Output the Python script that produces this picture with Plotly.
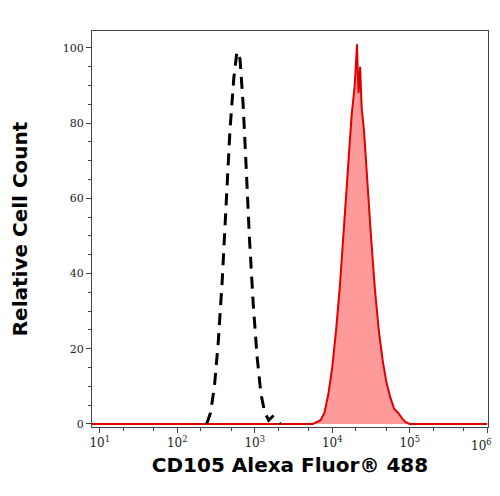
import plotly.graph_objects as go

iso_log_x = [2.38,2.43,2.48,2.53,2.58,2.63,2.68,2.73,2.77,2.81,2.85,2.89,2.93,2.98,3.03,3.08,3.13,3.18,3.23,3.28,3.33]
iso_y =     [0,   3,   10,  22,  38,  58,  78,  92,  99,  97,  85,  68,  50,  32,  18,  8,   3,   1,   2,   1,   0]

cd_log_x = [0.9,3.75,3.85,3.90,3.95,4.00,4.05,4.10,4.15,4.20,4.25,4.29,4.31,4.32,4.33,4.34,4.36,4.38,4.41,4.45,4.50,4.55,4.60,4.65,4.70,4.75,4.80,4.85,4.90,4.95,5.00,6.0]
cd_y =     [0,  0,   1,   3,   8,   15,  25,  37,  52,  68,  82,  90,  97,  101, 93,  88,  95,  84,  78,  65,  50,  36,  25,  17,  11,  7,   4,   3,   1.5, 0.5, 0,   0]

tick_vals = [10, 100, 1000, 10000, 100000, 1000000]
tick_text = ["10<sup>1</sup>","10<sup>2</sup>","10<sup>3</sup>","10<sup>4</sup>","10<sup>5</sup>",""]
last_tick_label = "10<sup>6</sup>"

fig = go.Figure()
fig.add_trace(go.Scatter(x=[10**v for v in cd_log_x], y=cd_y, mode="lines",
    line=dict(color="#e00000", width=2), fill="tozeroy", fillcolor="rgba(255,120,120,0.75)"))
fig.add_trace(go.Scatter(x=[10**v for v in iso_log_x], y=iso_y, mode="lines",
    line=dict(color="black", width=3, dash="12px,8px")))

fig.add_annotation(x=6, xref="x", y=0, yref="paper", yshift=-8, text=last_tick_label,
    showarrow=False, xanchor="center", yanchor="top", xshift=-6,
    font=dict(family="DejaVu Serif", size=12, color="#222"))

fig.update_layout(
    width=492, height=488, showlegend=False, plot_bgcolor="white", paper_bgcolor="white",
    margin=dict(l=84, r=12, t=23, b=69),
    xaxis=dict(type="log", range=[0.9, 6.01], tickvals=tick_vals, ticktext=tick_text, automargin=False,
        ticks="outside", ticklen=5, showgrid=False, zeroline=False,
        showline=True, linecolor="#444", mirror=True, minor=dict(ticks="outside", ticklen=3),
        tickfont=dict(family="DejaVu Serif", size=12, color="#222"),
        title=dict(text="<b>CD105 Alexa Fluor® 488</b>", font=dict(family="DejaVu Sans", size=20, color="black"), standoff=8)),
    yaxis=dict(range=[-0.8, 104.5], tickvals=[0,20,40,60,80,100], ticks="outside", ticklen=5, automargin=False,
        showgrid=False, zeroline=False, showline=True, linecolor="#444", mirror=True,
        minor=dict(ticks="outside", ticklen=3, dtick=5),
        tickfont=dict(family="DejaVu Serif", size=11, color="#222"),
        title=dict(text="<b>Relative Cell Count</b>", font=dict(family="DejaVu Sans", size=20, color="black"), standoff=30)),
)
fig.write_html("out.html")
